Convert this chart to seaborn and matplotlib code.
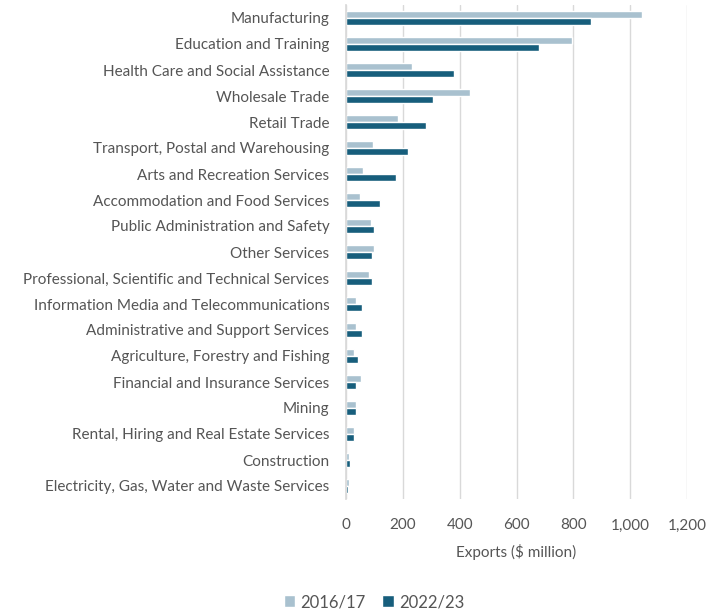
import matplotlib
matplotlib.use("Agg")
import matplotlib.pyplot as plt
import seaborn as sns
import pandas as pd
from matplotlib.ticker import FuncFormatter

categories = [
    "Manufacturing",
    "Education and Training",
    "Health Care and Social Assistance",
    "Wholesale Trade",
    "Retail Trade",
    "Transport, Postal and Warehousing",
    "Arts and Recreation Services",
    "Accommodation and Food Services",
    "Public Administration and Safety",
    "Other Services",
    "Professional, Scientific and Technical Services",
    "Information Media and Telecommunications",
    "Administrative and Support Services",
    "Agriculture, Forestry and Fishing",
    "Financial and Insurance Services",
    "Mining",
    "Rental, Hiring and Real Estate Services",
    "Construction",
    "Electricity, Gas, Water and Waste Services",
]
exports_2016 = [1043, 796, 232, 435, 183, 96, 61, 49, 88, 98, 80, 36, 36, 27, 54, 36, 27, 11, 9]
exports_2022 = [861, 678, 379, 306, 283, 219, 175, 118, 98, 93, 93, 58, 55, 41, 36, 36, 27, 14, 6]
series = ["2016/17", "2022/23"]
x_ticks = [0, 200, 400, 600, 800, 1000, 1200]

rows = []
for c, a, b in zip(categories, exports_2016, exports_2022):
    rows.append({"Industry": c, "Year": series[0], "Exports": a})
    rows.append({"Industry": c, "Year": series[1], "Exports": b})
df = pd.DataFrame(rows)

sns.set_theme(style="white")
plt.rcParams["font.family"] = ["Lato", "DejaVu Sans"]
text_color = "#555555"

fig = plt.figure(figsize=(7.09, 6.09), dpi=100)
ax = fig.add_axes([346 / 709, 1 - 499 / 609, (687 - 346) / 709, (499 - 5) / 609])

sns.barplot(data=df, y="Industry", x="Exports", hue="Year", order=categories,
            hue_order=series, palette=["#a9c1cf", "#175e7c"], orient="h",
            width=0.56, ax=ax, legend=True, saturation=1)

ax.set_xlim(0, 1200)
ax.set_xticks(x_ticks)
ax.xaxis.set_major_formatter(FuncFormatter(lambda v, p: f"{int(v):,}"))
ax.grid(axis="x", color="#d9d9d9", linewidth=1)
ax.set_axisbelow(True)
for s in ["top", "right", "bottom"]:
    ax.spines[s].set_visible(False)
ax.spines["left"].set_color("#d9d9d9")
ax.set_ylabel("")
ax.set_xlabel("Exports ($ million)", fontsize=11, color=text_color, labelpad=8)
ax.tick_params(axis="y", length=0, pad=12, labelsize=11, labelcolor=text_color)
ax.tick_params(axis="x", length=0, pad=14, labelsize=11, labelcolor=text_color)

handles, labels = ax.get_legend_handles_labels()
ax.get_legend().remove()
fig.legend(handles, labels, loc="center", bbox_to_anchor=(374 / 709, 1 - 602 / 609),
           ncol=2, frameon=False, fontsize=12, labelcolor=text_color,
           handlelength=0.7, handleheight=0.7, handletextpad=0.3, columnspacing=1.0)

fig.savefig("out.png", dpi=100)
